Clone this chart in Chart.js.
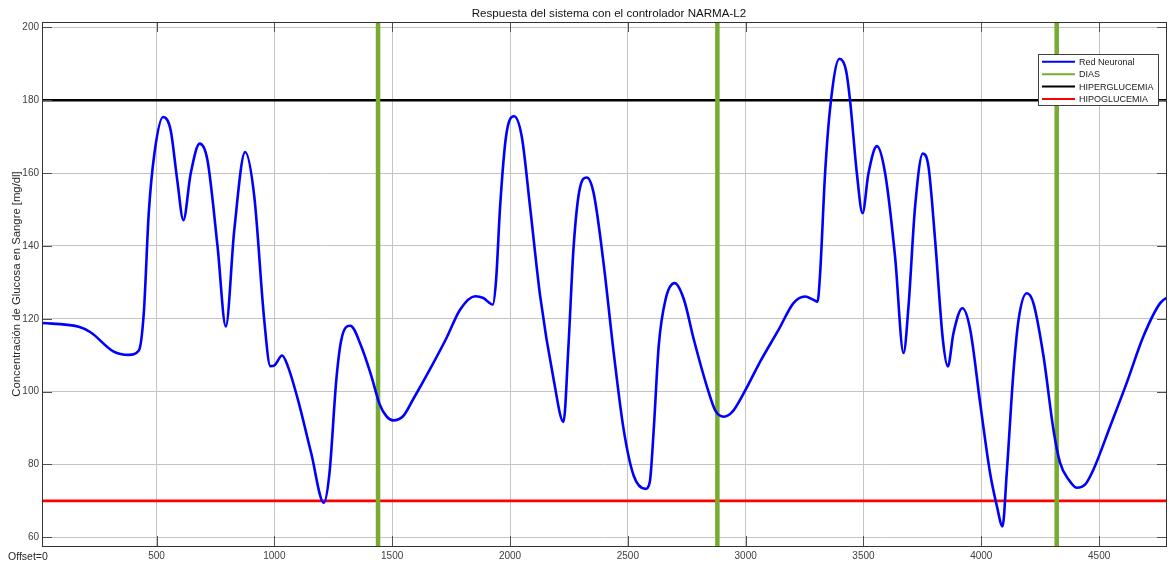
<!DOCTYPE html>
<html>
<head>
<meta charset="utf-8">
<script src="https://cdn.jsdelivr.net/npm/chart.js@4.4.1/dist/chart.umd.min.js"></script>
<style>
  html, body { margin: 0; padding: 0; background: #ffffff; }
  #wrap { width: 1170px; height: 565px; position: relative; }
</style>
</head>
<body>
<div id="wrap"><canvas id="c" width="1170" height="565"></canvas></div>
<script>
// ---- data ----
const tiempo = [0,170,220,318,382,425,446,467,491,528,560,588,614,645,683,716,759,794,830,876,915,957,983,1000,1033,1057,1100,1156,1210,1234,1263,1284,1322,1369,1412,1447,1476,1504,1547,1589,1660,1731,1788,1852,1887,1927,1941,1958,1983,2017,2050,2085,2128,2185,2227,2248,2270,2298,2326,2355,2397,2440,2482,2525,2575,2593,2610,2631,2660,2699,2738,2780,2837,2872,2908,2943,2993,3064,3140,3203,3252,3288,3305,3316,3337,3359,3398,3426,3443,3472,3496,3521,3557,3592,3634,3670,3691,3719,3752,3776,3804,3837,3858,3882,3920,3953,3995,4037,4066,4090,4108,4136,4158,4193,4221,4264,4306,4334,4370,4405,4441,4476,4547,4617,4688,4759,4800];
const glucosa = [118.9,117.8,116.3,111,110.1,111.3,121.6,149,165.4,175.4,171.8,158,147.1,159.9,168.1,163.6,139.8,117.9,144.4,165.8,153.5,119.7,107,107.2,109.9,107,97.8,83.2,69.5,77.7,103.3,114.2,118.1,112.4,104.2,96.5,93.2,92.1,93.3,97.9,106.1,114.8,122.5,126.2,125.7,123.9,130.7,150.8,170,175.6,170,150.8,126.2,103.4,91.7,112.5,139.9,156.3,158.8,154.5,135.3,110.7,89.7,76.9,73.3,75.1,89.7,112.5,125.3,129.8,125.3,114.3,101.1,94.7,93.1,94.4,99.7,108.5,117,124.3,126.1,125.2,124.7,132.5,159.9,178.2,191.4,188.2,180,159.9,149,159.9,167.4,159.9,137.1,110.6,123.4,150.8,165.4,161.7,141.6,114.2,106.9,116.1,122.9,117,96.9,77.7,68.6,63,77.7,105.1,119.7,127,124.3,109.7,89.6,80.5,75.9,73.6,74.5,78.6,90.5,102.4,115.2,124.3,126.3];
const dias = [1440, 2880, 4320];
const hiperglucemia = 180;
const hipoglucemia = 70;
const xTicks = [500,1000,1500,2000,2500,3000,3500,4000,4500];
const yTicks = [60,80,100,120,140,160,180,200];
const seriesNames = ['Red Neuronal','DIAS','HIPERGLUCEMIA','HIPOGLUCEMIA'];
const seriesColors = ['#0000ff','#77ac30','#000000','#ff0000'];
const titulo = 'Respuesta del sistema con el controlador NARMA-L2';
const yTitulo = 'Concentración de Glucosa en Sangre [mg/dl]';
const offsetTexto = 'Offset=0';

const X_MIN = 14, X_MAX = 4788, Y_MIN = 57.6, Y_MAX = 201.5;

// ---- build datasets ----
const redData = tiempo.map((t, i) => ({x: t, y: glucosa[i]}));
const diasData = [];
dias.forEach(d => { diasData.push({x: d, y: Y_MIN - 5}); diasData.push({x: d, y: Y_MAX + 5}); diasData.push({x: d, y: null}); });
const hiperData = [{x: X_MIN - 50, y: hiperglucemia}, {x: X_MAX + 50, y: hiperglucemia}];
const hipoData = [{x: X_MIN - 50, y: hipoglucemia}, {x: X_MAX + 50, y: hipoglucemia}];

const FONT = "'Liberation Sans', Arial, sans-serif";

const decor = {
  id: 'decor',
  afterDraw(chart) {
    const ctx = chart.ctx;
    const a = chart.chartArea;
    const xs = chart.scales.x, ys = chart.scales.y;
    ctx.save();
    // inward tick marks
    ctx.strokeStyle = '#505050';
    ctx.lineWidth = 1;
    ctx.beginPath();
    xTicks.forEach(v => {
      const px = Math.round(xs.getPixelForValue(v)) + 0.5;
      ctx.moveTo(px, a.bottom); ctx.lineTo(px, a.bottom - 10);
      ctx.moveTo(px, a.top); ctx.lineTo(px, a.top + 10);
    });
    yTicks.forEach(v => {
      const py = Math.round(ys.getPixelForValue(v)) + 0.5;
      ctx.moveTo(a.left, py); ctx.lineTo(a.left + 10, py);
      ctx.moveTo(a.right, py); ctx.lineTo(a.right - 10, py);
    });
    ctx.stroke();
    // border
    ctx.strokeStyle = '#333333';
    ctx.strokeRect(Math.round(a.left) + 0.5, Math.round(a.top) + 0.5, Math.round(a.right - a.left) - 1, Math.round(a.bottom - a.top));
    // title
    ctx.fillStyle = '#111111';
    ctx.font = '11.6px ' + FONT;
    ctx.textAlign = 'center';
    ctx.textBaseline = 'middle';
    ctx.fillText(titulo, 609, 14);
    // y title
    ctx.save();
    ctx.translate(17, (a.top + a.bottom) / 2);
    ctx.rotate(-Math.PI / 2);
    ctx.font = '11.3px ' + FONT;
    ctx.fillStyle = '#262626';
    ctx.fillText(yTitulo, 0, 0);
    ctx.restore();
    // offset text
    ctx.font = '10.5px ' + FONT;
    ctx.fillStyle = '#262626';
    ctx.textAlign = 'left';
    ctx.fillText(offsetTexto, 8, 557);
    // legend
    const lx = 1038.5, ly = 54.5, lw = 120, lh = 51;
    ctx.fillStyle = '#ffffff';
    ctx.fillRect(lx, ly, lw, lh);
    ctx.strokeStyle = '#404040';
    ctx.lineWidth = 1;
    ctx.strokeRect(lx, ly, lw, lh);
    ctx.font = '9px ' + FONT;
    ctx.textAlign = 'left';
    ctx.textBaseline = 'middle';
    seriesNames.forEach((name, i) => {
      const y = 61.8 + i * 12.4;
      ctx.strokeStyle = seriesColors[i];
      ctx.lineWidth = 2;
      ctx.beginPath();
      ctx.moveTo(1042, y); ctx.lineTo(1075, y);
      ctx.stroke();
      ctx.fillStyle = '#1a1a1a';
      ctx.fillText(name, 1079, y + 0.5);
    });
    ctx.restore();
  }
};

new Chart(document.getElementById('c'), {
  type: 'line',
  data: {
    datasets: [
      { label: seriesNames[0], data: redData, borderColor: seriesColors[0], borderWidth: 2.6, pointRadius: 0, cubicInterpolationMode: 'monotone', order: 0 },
      { label: seriesNames[1], data: diasData, borderColor: seriesColors[1], borderWidth: 4.5, pointRadius: 0, tension: 0, spanGaps: false, order: 1 },
      { label: seriesNames[2], data: hiperData, borderColor: seriesColors[2], borderWidth: 2.6, pointRadius: 0, tension: 0, order: 2 },
      { label: seriesNames[3], data: hipoData, borderColor: seriesColors[3], borderWidth: 2.6, pointRadius: 0, tension: 0, order: 3 }
    ]
  },
  options: {
    responsive: false,
    animation: false,
    events: [],
    layout: { padding: { top: 22, right: 3, left: 0, bottom: 0 } },
    plugins: { legend: { display: false }, tooltip: { enabled: false }, title: { display: false } },
    scales: {
      x: {
        type: 'linear', min: X_MIN, max: X_MAX,
        afterBuildTicks(scale) { scale.ticks = xTicks.map(v => ({value: v})); },
        afterFit(scale) { scale.height = 19; },
        grid: { color: '#c4c4c4', lineWidth: 1, drawTicks: false },
        border: { display: false },
        ticks: { autoSkip: false, maxRotation: 0, padding: 4, color: '#404040', font: { family: FONT, size: 10 },
                 callback: v => String(v) }
      },
      y: {
        type: 'linear', min: Y_MIN, max: Y_MAX,
        afterBuildTicks(scale) { scale.ticks = yTicks.map(v => ({value: v})); },
        afterFit(scale) { scale.width = 42; },
        grid: { color: '#c4c4c4', lineWidth: 1, drawTicks: false },
        border: { display: false },
        ticks: { padding: 3, color: '#404040', font: { family: FONT, size: 10 },
                 callback: v => String(v) }
      }
    }
  },
  plugins: [decor]
});
</script>
</body>
</html>
